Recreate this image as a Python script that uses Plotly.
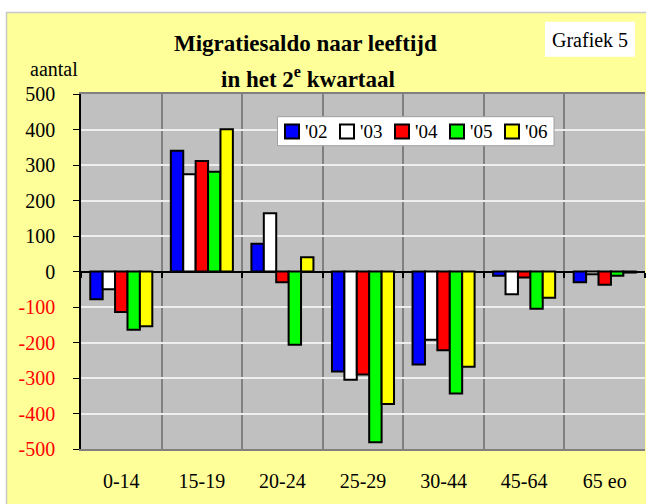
import plotly.graph_objects as go

categories = ["0-14", "15-19", "20-24", "25-29", "30-44", "45-64", "65 eo"]
series_names = ["'02", "'03", "'04", "'05", "'06"]
v02 = [-78, 340, 78, -282, -262, -12, -30]
v03 = [-50, 274, 164, -305, -192, -64, -8]
v04 = [-114, 311, -30, -290, -222, -17, -37]
v05 = [-164, 281, -206, -481, -344, -105, -12]
v06 = [-154, 401, 40, -373, -268, -74, -3]
series_values = [v02, v03, v04, v05, v06]
colors = ["#0000FF", "#FFFFFF", "#FF0000", "#00FF00", "#FFFF00"]
y_ticks = [-500, -400, -300, -200, -100, 0, 100, 200, 300, 400, 500]

W, H = 646, 504
L, R, T, B = 81, 645, 94, 449  # plot area in pixels
FONT = "Liberation Serif"


def px(x):
    return (x - L) / (R - L)


def py(y):
    return (B - y) / (B - T)


fig = go.Figure()
for name, vals, col in zip(series_names, series_values, colors):
    fig.add_trace(go.Bar(x=categories, y=vals, name=name, marker=dict(color=col, line=dict(color="black", width=2)),
                         showlegend=False))

# dummy trace to carry the category-axis ticks at the zero line
fig.add_trace(go.Scatter(x=categories, y=[0] * len(categories), xaxis="x2", mode="markers",
                         marker=dict(opacity=0), showlegend=False, hoverinfo="skip"))

ticktext = [("<span style='color:#FF0000'>%d</span>" % v) if v < 0 else str(v) for v in y_ticks]

shapes = [
    # white strips outside the yellow frame
    dict(type="rect", xref="paper", yref="paper", x0=px(-5), x1=px(W + 5), y0=py(12), y1=py(-5),
         fillcolor="white", line=dict(width=0), layer="below"),
    dict(type="rect", xref="paper", yref="paper", x0=px(-5), x1=px(6), y0=py(W), y1=py(-5),
         fillcolor="white", line=dict(width=0), layer="below"),
    dict(type="line", xref="paper", yref="paper", x0=px(6), x1=px(W + 5), y0=py(12.5), y1=py(12.5),
         line=dict(color="#C8C8C8", width=1.5)),
    dict(type="line", xref="paper", yref="paper", x0=px(6.5), x1=px(6.5), y0=py(12), y1=py(W),
         line=dict(color="#C8C8C8", width=1.5)),
    # Grafiek 5 box
    dict(type="rect", xref="paper", yref="paper", x0=px(545), x1=px(635), y0=py(56.7), y1=py(21.7),
         fillcolor="white", line=dict(width=0)),
    # legend box
    dict(type="rect", xref="paper", yref="paper", x0=px(277.5), x1=px(554), y0=py(145.7), y1=py(116.7),
         fillcolor="white", line=dict(color="#A0A0A0", width=1)),
]

annotations = [
    dict(text="<b>Migratiesaldo naar leeftijd</b>", xref="paper", yref="paper", x=px(305), y=py(44),
         xanchor="center", yanchor="middle", showarrow=False, font=dict(family=FONT, size=23, color="black")),
    dict(text="<b>in het 2<sup>e</sup> kwartaal</b>", xref="paper", yref="paper", x=px(308), y=py(77),
         xanchor="center", yanchor="middle", showarrow=False, font=dict(family=FONT, size=23, color="black")),
    dict(text="aantal", xref="paper", yref="paper", x=px(28), y=py(69), xanchor="left", yanchor="middle",
         showarrow=False, font=dict(family=FONT, size=20, color="black")),
    dict(text="Grafiek 5", xref="paper", yref="paper", x=px(590), y=py(40), xanchor="center", yanchor="middle",
         showarrow=False, font=dict(family=FONT, size=20, color="black")),
]

# manual legend
for i, (name, col) in enumerate(zip(series_names, colors)):
    x0 = 285 + 55 * i
    shapes.append(dict(type="rect", xref="paper", yref="paper", x0=px(x0), x1=px(x0 + 14), y0=py(138.5),
                       y1=py(124.5), fillcolor=col, line=dict(color="black", width=2)))
    annotations.append(dict(text=name, xref="paper", yref="paper", x=px(x0 + 18), y=py(131), xanchor="left",
                            yanchor="middle", showarrow=False, font=dict(family=FONT, size=19, color="black")))

fig.update_layout(
    width=W, height=H,
    margin=dict(l=L, r=W - R, t=T, b=H - B, pad=0),
    paper_bgcolor="#FFFF99",
    plot_bgcolor="#C0C0C0",
    barmode="group", bargap=0.23, bargroupgap=0,
    font=dict(family=FONT, size=20, color="black"),
    shapes=shapes,
    annotations=annotations,
    xaxis=dict(type="category", tickson="boundaries", showgrid=True, gridcolor="#808080", gridwidth=2,
               ticks="", showline=True, linecolor="#808080", linewidth=2, mirror=True,
               ticklabelstandoff=13, tickfont=dict(family=FONT, size=20, color="black")),
    xaxis2=dict(type="category", overlaying="x", matches="x", anchor="free", position=0.5, side="bottom",
                tickson="boundaries", ticks="outside", ticklen=5, tickcolor="black", tickwidth=1.5,
                showticklabels=False, showgrid=False, showline=False),
    yaxis=dict(range=[-500, 500], tickvals=y_ticks, ticktext=ticktext, showgrid=True, gridcolor="#EEEEEE",
               gridwidth=1.5, zeroline=True, zerolinecolor="black", zerolinewidth=1.5, showline=True,
               linecolor="black", linewidth=1.5, ticks="outside", ticklen=6, tickcolor="black",
               ticklabelstandoff=14, tickfont=dict(family=FONT, size=20, color="black")),
)

fig.write_html("out.html", config={"displayModeBar": False},
               post_script="document.body.style.margin='0';")
